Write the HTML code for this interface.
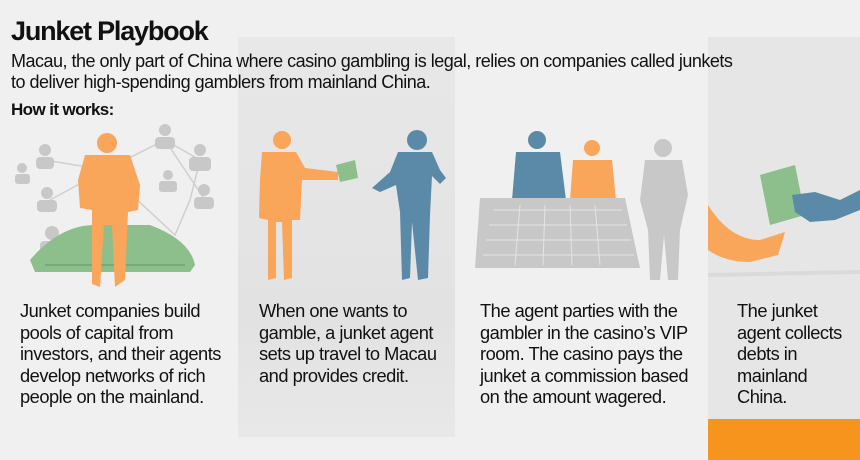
<!DOCTYPE html>
<html><head><meta charset="utf-8"><style>
body{margin:0;width:860px;height:460px;background:#f0f0f0;position:relative;overflow:hidden;font-family:"Liberation Sans Narrow","Liberation Sans",sans-serif;font-stretch:condensed;color:#111}
.p{position:absolute}
.t{position:absolute;white-space:nowrap}
.body{font-size:18.3px;line-height:21.5px;letter-spacing:-0.5px}
</style></head><body>
<div class="p" style="left:238px;top:37px;width:217px;height:400px;background:linear-gradient(#e8e8e8,#e2e2e2 70%,#e8e8e8)"></div>
<div class="p" style="left:708px;top:37px;width:152px;height:423px;background:#e6e6e6"></div>
<div class="p" style="left:708px;top:419px;width:152px;height:41px;background:#f7941d"></div>
<div class="t" style="left:11px;top:16px;font-size:27px;font-weight:bold;letter-spacing:-1.2px">Junket Playbook</div>
<div class="t" style="left:11px;top:51px;font-size:18px;line-height:21px;letter-spacing:-0.5px">Macau, the only part of China where casino gambling is legal, relies on companies called junkets<br>to deliver high-spending gamblers from mainland China.</div>
<div class="t" style="left:11px;top:100px;font-size:17px;font-weight:bold;letter-spacing:-0.6px">How it works:</div>
<svg class="p" style="left:0;top:0" width="860" height="460">
<g stroke="#cfcfcf" stroke-width="1.5" fill="none">
<path d="M45 160 L105 170 L165 140 L200 160 L190 200 L175 235 L105 170 L50 200 M165 140 L205 200"/>
</g>
<g fill="#c8c8c8">
<circle cx="45" cy="150" r="6"/><rect x="36" y="157" width="18" height="12" rx="4"/>
<circle cx="22" cy="168" r="5"/><rect x="15" y="174" width="15" height="10" rx="3"/>
<circle cx="47" cy="193" r="6"/><rect x="37" y="200" width="20" height="12" rx="4"/>
<circle cx="165" cy="130" r="6"/><rect x="155" y="137" width="20" height="12" rx="4"/>
<circle cx="200" cy="150" r="6"/><rect x="189" y="157" width="22" height="14" rx="4"/>
<circle cx="168" cy="175" r="5"/><rect x="159" y="181" width="18" height="11" rx="3"/>
<circle cx="204" cy="190" r="6"/><rect x="194" y="197" width="20" height="12" rx="4"/>
<circle cx="52" cy="233" r="7"/><rect x="40" y="241" width="24" height="16" rx="4"/>
</g>
<path d="M30 260 Q60 225 95 225 L150 225 Q190 240 195 265 L190 272 L35 272Z" fill="#8cbf8c"/>
<path d="M45 265 L185 265" stroke="#7aa87a" stroke-width="2"/>
<g fill="#f9a55a">
<circle cx="107" cy="143" r="10"/>
<path d="M85 155 L130 155 L140 185 L138 210 L128 212 L125 280 L115 287 L112 225 L104 225 L100 287 L92 284 L92 210 L80 208 L78 180Z"/>
</g>
<g fill="#f9a55a">
<circle cx="282" cy="140" r="9"/>
<path d="M262 152 L296 152 L305 168 L338 172 L338 180 L302 180 L300 220 L292 220 L292 278 L284 280 L282 222 L276 222 L276 278 L268 280 L268 220 L259 218 L260 180Z"/>
</g>
<path d="M336 165 L355 160 L358 178 L340 182Z" fill="#8cbf8c"/>
<g fill="#5b8aa8">
<circle cx="417" cy="140" r="10"/>
<path d="M398 152 L432 152 L440 170 L446 178 L440 184 L432 176 L430 215 L428 278 L418 280 L412 222 L410 278 L402 280 L400 212 L396 185 L380 192 L372 188 L390 172Z"/>
</g>
<g fill="#c8c8c8">
<circle cx="663" cy="148" r="9"/>
<path d="M645 160 L682 160 L688 195 L680 230 L678 280 L668 280 L664 235 L660 280 L650 280 L648 230 L640 200Z"/>
</g>
<g fill="#5b8aa8"><circle cx="537" cy="140" r="9"/><path d="M516 152 L560 152 L566 200 L512 200Z"/></g>
<g fill="#f9a55a"><circle cx="592" cy="148" r="8"/><path d="M573 160 L612 160 L616 200 L570 200Z"/></g>
<path d="M480 198 L625 198 L640 268 L475 268Z" fill="#c8c8c8"/>
<g stroke="#e4e4e4" stroke-width="1" fill="none">
<path d="M493 210 L622 210 M489 225 L627 225 M486 240 L631 240 M483 255 L634 255 M520 205 L515 265 M545 205 L543 265 M570 205 L572 265 M595 205 L600 265"/>
</g>
<path d="M708 205 Q730 240 760 240 L785 232 L778 255 L750 262 Q725 262 708 250Z" fill="#f9a55a"/>
<path d="M760 175 L795 165 L805 215 L770 225Z" fill="#8cbf8c"/>
<path d="M792 195 L815 192 L840 200 L860 190 L860 210 L835 220 L810 222 L795 212Z" fill="#5b8aa8"/>
<path d="M708 275 L860 272" stroke="#dadada" stroke-width="4"/>
</svg>
<div class="t body" style="left:20px;top:300px">Junket companies build<br>pools of capital from<br>investors, and their agents<br>develop networks of rich<br>people on the mainland.</div>
<div class="t body" style="left:259px;top:300px">When one wants to<br>gamble, a junket agent<br>sets up travel to Macau<br>and provides credit.</div>
<div class="t body" style="left:480px;top:300px">The agent parties with the<br>gambler in the casino’s VIP<br>room. The casino pays the<br>junket a commission based<br>on the amount wagered.</div>
<div class="t body" style="left:737px;top:300px">The junket<br>agent collects<br>debts in<br>mainland<br>China.</div>
</body></html>
